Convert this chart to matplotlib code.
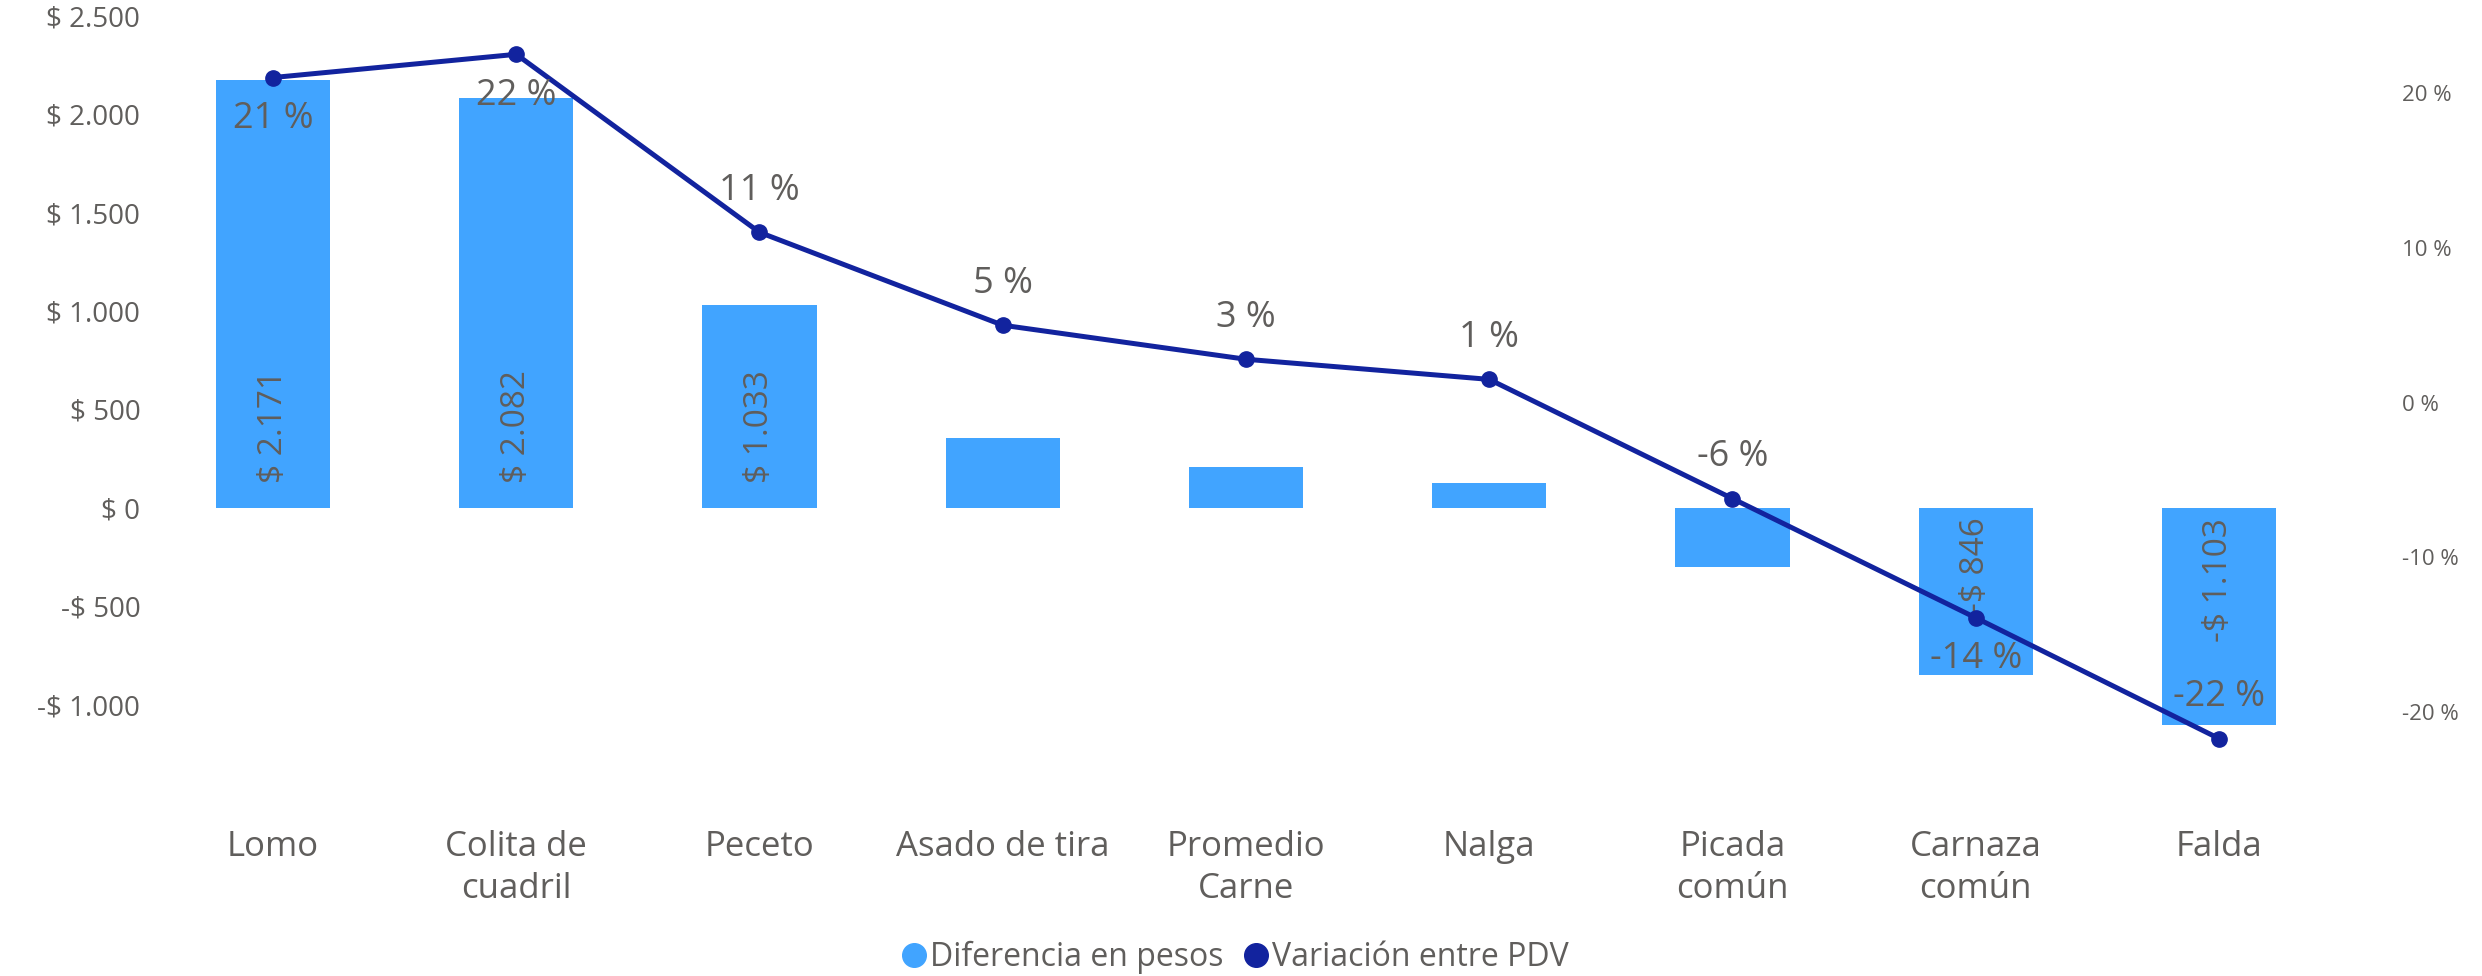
import matplotlib.pyplot as plt
from matplotlib.lines import Line2D
import numpy as np

plt.rcParams['font.family'] = ['Open Sans', 'DejaVu Sans']

# data
categories = ["Lomo", "Colita de\ncuadril", "Peceto", "Asado de tira", "Promedio\nCarne",
              "Nalga", "Picada\ncomún", "Carnaza\ncomún", "Falda"]
diff_pesos = [2171, 2082, 1033, 355, 208, 127, -300, -846, -1103]
variacion = [21, 22.5, 11, 5, 2.8, 1.5, -6.2, -13.9, -21.7]
pct_labels = ["21 %", "22 %", "11 %", "5 %", "3 %", "1 %", "-6 %", "-14 %", "-22 %"]
pct_pos = ["below", "below", "above", "above", "above", "above", "above", "below", "above"]
left_ticks = [-1000, -500, 0, 500, 1000, 1500, 2000, 2500]
right_ticks = [-20, -10, 0, 10, 20]

BAR = "#41A4FF"
LINE = "#12239E"
TXT = "#605E5C"


def fmt_peso(v):
    s = f"{abs(v):,}".replace(",", ".")
    return ("-$ " if v < 0 else "$ ") + s


fig = plt.figure(figsize=(24.82, 9.76), dpi=100)
ax1 = fig.add_axes([0.061, 0.191, 0.882, 0.793])
ax2 = ax1.twinx()

x = np.arange(len(categories))
ax1.bar(x, diff_pesos, width=0.47, color=BAR, zorder=1)
ax1.set_ylim(-1430, 2500)
ax1.set_xlim(-0.5, len(categories) - 0.5)
ax1.set_yticks(left_ticks)
ax1.set_yticklabels([fmt_peso(v) for v in left_ticks])
ax1.set_xticks(x)
ax1.set_xticklabels(categories, fontsize=25, color=TXT, linespacing=1.3)
ax1.tick_params(axis='x', length=0, pad=29)
ax1.tick_params(axis='y', length=0, pad=8, labelsize=20, labelcolor=TXT)

# bar value labels, inside base, only where they fit
for xi, v in zip(x, diff_pesos):
    if abs(v) < 600:
        continue
    if v > 0:
        ax1.annotate(fmt_peso(v), (xi, 0), xytext=(0, 18), textcoords="offset points",
                     rotation=90, ha="center", va="bottom", fontsize=24, color=TXT, zorder=3)
    else:
        ax1.annotate(fmt_peso(v), (xi, 0), xytext=(0, -7), textcoords="offset points",
                     rotation=90, ha="center", va="top", fontsize=24, color=TXT, zorder=3)

ax2.plot(x, variacion, color=LINE, linewidth=3.6, marker="o", markersize=11, zorder=4)
ax2.set_ylim(-25, 25)
ax2.set_yticks(right_ticks)
ax2.set_yticklabels([f"{v} %" for v in right_ticks])
ax2.tick_params(axis='y', length=0, pad=44, labelsize=16, labelcolor=TXT)

for xi, v, lab, pos in zip(x, variacion, pct_labels, pct_pos):
    dy = 30 if pos == "above" else -30
    ax2.annotate(lab, (xi, v), xytext=(0, dy), textcoords="offset points",
                 ha="center", va="center", fontsize=26, color=TXT, zorder=5)

ax1.set_zorder(ax2.get_zorder() - 1)
ax1.patch.set_visible(False)
ax2.patch.set_visible(False)
for a in (ax1, ax2):
    for s in a.spines.values():
        s.set_visible(False)

handles = [Line2D([], [], linestyle="none", marker="o", markersize=17, color=BAR),
           Line2D([], [], linestyle="none", marker="o", markersize=17, color=LINE)]
fig.legend(handles, ["Diferencia en pesos", "Variación entre PDV"], loc="center",
           bbox_to_anchor=(0.497, 0.019), ncol=2, frameon=False, fontsize=23,
           labelcolor=TXT, handletextpad=0.0, columnspacing=0.5, handlelength=1.0)

fig.savefig("out.png", dpi=100)
